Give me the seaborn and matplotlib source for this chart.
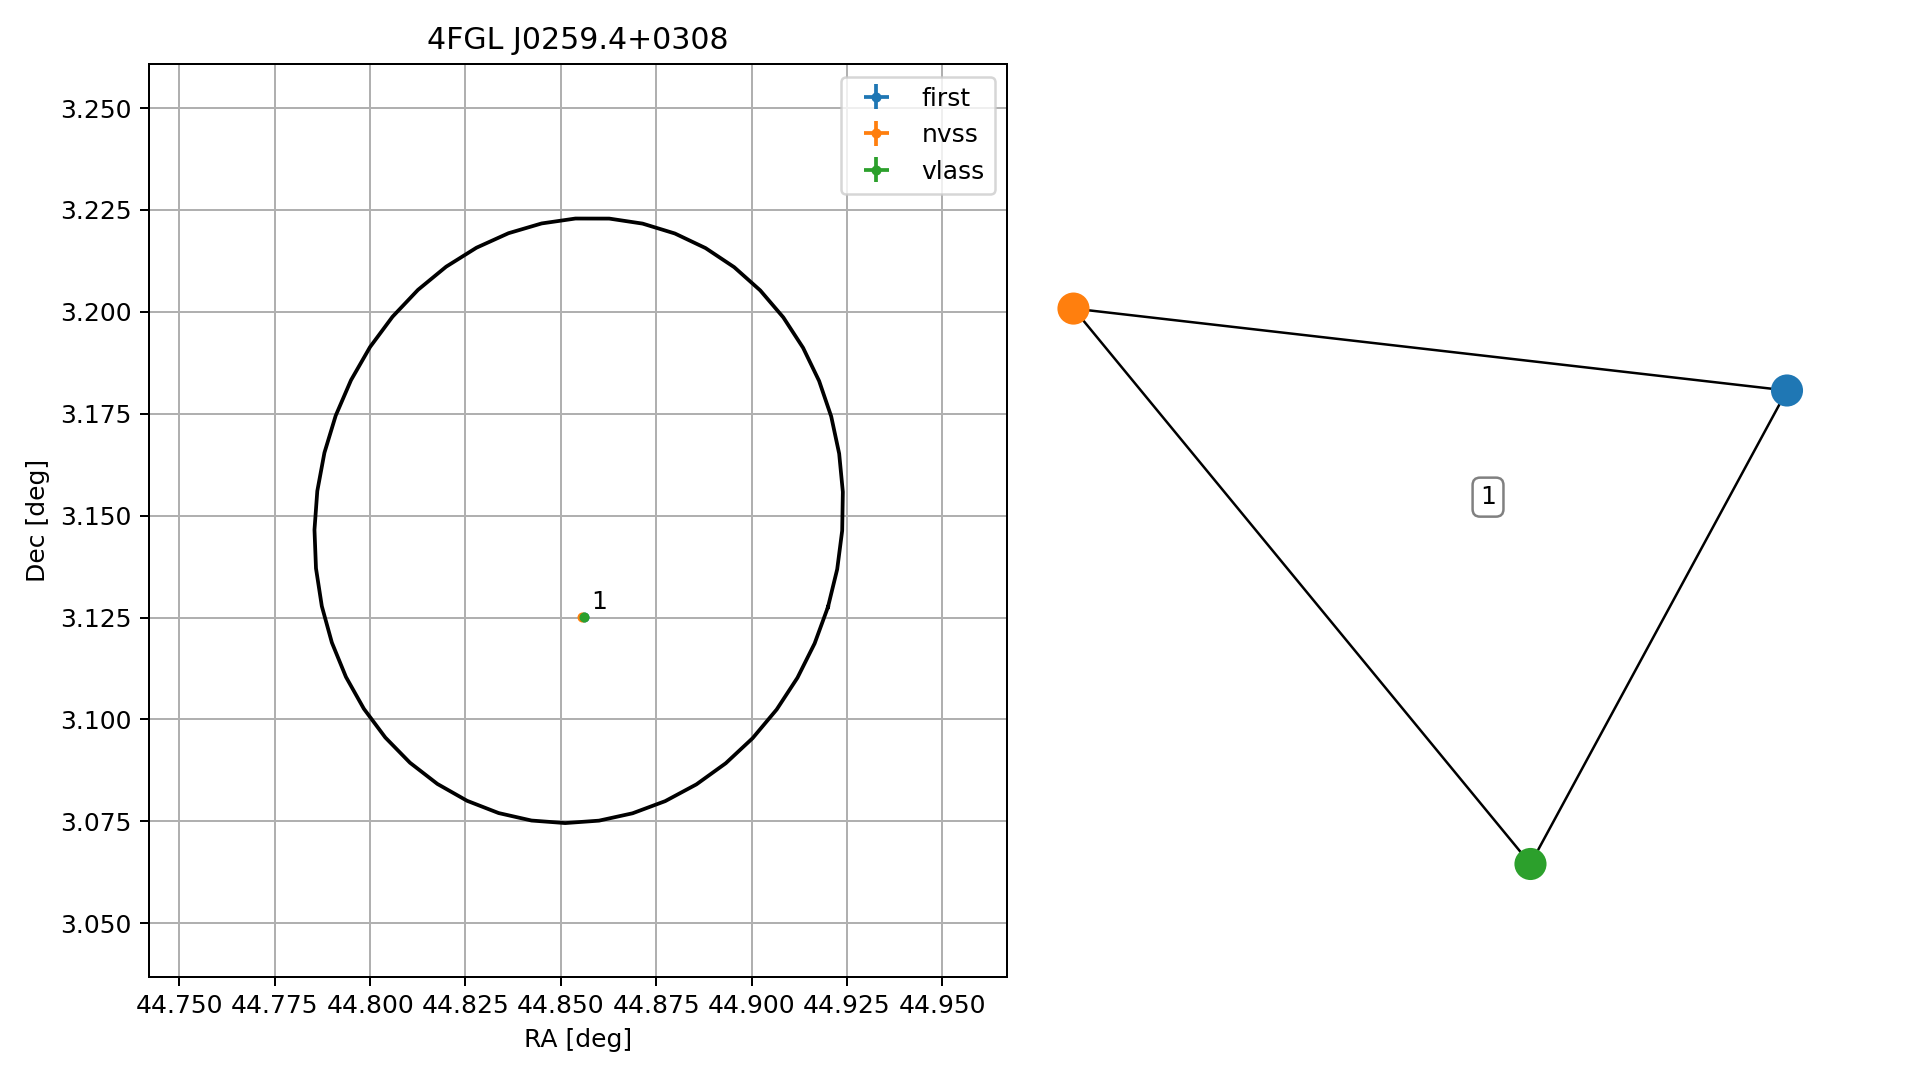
import matplotlib
matplotlib.use('Agg')

import matplotlib.pyplot as plt
import seaborn as sns
import pandas as pd
import numpy as np

# source / catalogue data
source_name = '4FGL J0259.4+0308'
surveys = ['first', 'nvss', 'vlass']
ra = [44.8560, 44.8555, 44.8560]
dec = [3.1251, 3.1251, 3.1251]
ra_err = [0.0002, 0.0004, 0.0001]
dec_err = [0.0002, 0.0004, 0.0001]
colors = ['#1f77b4', '#ff7f0e', '#2ca02c']

# 95% error ellipse of the gamma-ray source
ell_ra = 44.8547
ell_dec = 3.1488
ell_a = 0.0687
ell_b = 0.0748
ell_angle = -18.0
ell_npts = 50

# graph of the matched group (layout positions)
node_x = [1.0, -1.0, 0.281]
node_y = [0.705, 1.0, -1.0]
edges = [(0, 1), (1, 2), (2, 0)]
group_label = '1'
group_label_pos = (0.162, 0.321)

################################################################################

fig = plt.figure(figsize=(1919/180, 1080/180), dpi=180)
ax = fig.add_axes([0.0776, 0.0954, 0.4472, 0.8453])

t = np.linspace(0, 2*np.pi, ell_npts)
th = np.deg2rad(ell_angle)
ex = ell_ra + ell_a*np.cos(t)*np.cos(th) - ell_b*np.sin(t)*np.sin(th)
ey = ell_dec + ell_a*np.cos(t)*np.sin(th) + ell_b*np.sin(t)*np.cos(th)
ell = pd.DataFrame({'ra': ex, 'dec': ey})
sns.lineplot(data=ell, x='ra', y='dec', sort=False, estimator=None,
             color='black', linewidth=1.5, ax=ax)

for i in range(len(surveys)):
    ax.errorbar(ra[i], dec[i], xerr=ra_err[i], yerr=dec_err[i], fmt='o',
                markersize=3, color=colors[i], label=surveys[i])

ax.text(ra[0] + 0.002, dec[0] + 0.002, group_label, fontsize=10)

ax.set_xlim(44.742, 44.967)
ax.set_ylim(3.0368, 3.2608)
ax.set_xticks(np.arange(44.75, 44.951, 0.025))
ax.set_yticks(np.arange(3.05, 3.251, 0.025))
ax.xaxis.set_major_formatter(matplotlib.ticker.FormatStrFormatter('%.3f'))
ax.yaxis.set_major_formatter(matplotlib.ticker.FormatStrFormatter('%.3f'))
ax.grid(True)
ax.set_axisbelow(True)
ax.set_xlabel('RA [deg]')
ax.set_ylabel('Dec [deg]')
ax.set_title(source_name)
ax.legend(loc='upper right')

################################################################################

ax2 = fig.add_axes([0.5408, 0.1743, 0.409, 0.5657])
for (i, j) in edges:
    ax2.plot([node_x[i], node_x[j]], [node_y[i], node_y[j]], color='black',
             linewidth=1.0, zorder=1)
nodes = pd.DataFrame({'x': node_x, 'y': node_y, 'survey': surveys})
sns.scatterplot(data=nodes, x='x', y='y', hue='survey', palette=colors,
                s=165, linewidth=0, legend=False, ax=ax2, zorder=2)
ax2.text(group_label_pos[0], group_label_pos[1], group_label, fontsize=10,
         ha='center', va='center',
         bbox=dict(boxstyle='round,pad=0.3', fc='white', ec='gray'))
ax2.set_xlim(-1.1, 1.1)
ax2.set_ylim(-1.1, 1.1)
ax2.axis('off')

plt.savefig('out.png', dpi=180)
